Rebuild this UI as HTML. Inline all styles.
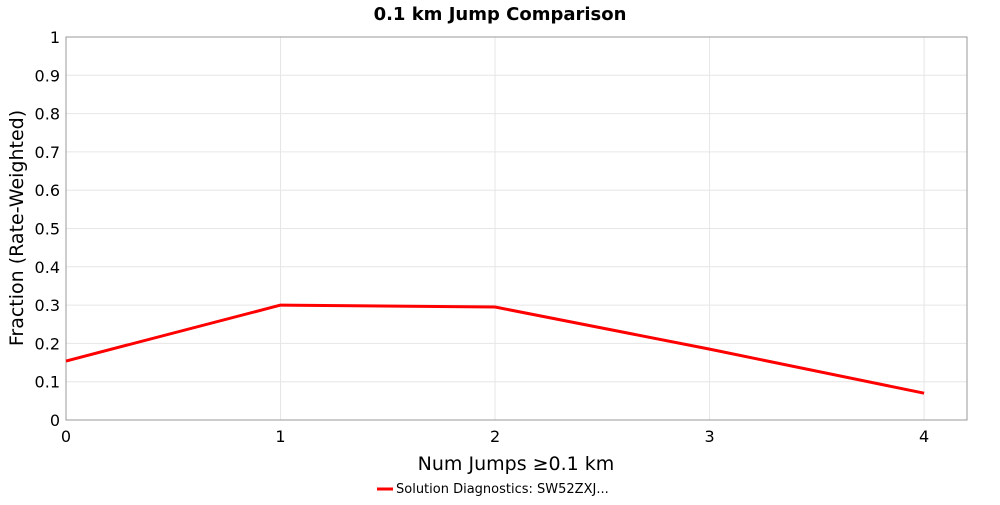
<!DOCTYPE html>
<html><head><meta charset="utf-8"><style>
body{margin:0;background:#fff;font-family:"Liberation Sans","DejaVu Sans",sans-serif;}
svg text{font-family:"DejaVu Sans","Liberation Sans",sans-serif;}
</style></head><body>
<svg id="chart" width="1000" height="500">
<text x="500" y="20" text-anchor="middle" font-size="18" font-weight="bold">0.1 km Jump Comparison</text>
<g id="grid"></g>
<rect x="66" y="37" width="901" height="383" fill="none" stroke="#999"/>
<g id="axes"></g>
<text x="516" y="470" text-anchor="middle" font-size="19">Num Jumps ≥0.1 km</text>
<text transform="translate(23,228) rotate(-90)" text-anchor="middle" font-size="19">Fraction (Rate-Weighted)</text>
<g id="series"></g>
<g>
<line x1="377" y1="489" x2="393" y2="489" stroke="red" stroke-width="3"/>
<text x="396" y="493" font-size="13">Solution Diagnostics: SW52ZXJ...</text>
</g>
</svg>
<script>
const xValues=[0,1,2,3,4];
const yValues=[0.154,0.300,0.295,0.185,0.070];
const xTicks=["0","1","2","3","4"];
const yTicks=["0","0.1","0.2","0.3","0.4","0.5","0.6","0.7","0.8","0.9","1"];
const NS="http://www.w3.org/2000/svg";
const X0=66,X1=967,Y0=420,Y1=37,XMAX=4.2;
const sx=v=>X0+v/XMAX*(X1-X0);
const sy=v=>Y0-v*(Y0-Y1);
const grid=document.getElementById('grid'),axes=document.getElementById('axes'),ser=document.getElementById('series');
function mk(t,a,p){const e=document.createElementNS(NS,t);for(const k in a)e.setAttribute(k,a[k]);p.appendChild(e);return e;}
yTicks.forEach((t,i)=>{const v=parseFloat(t),y=sy(v);
const g=mk('line',{x1:X0,x2:X1,y1:y,y2:y,stroke:'#e6e6e6'},grid);


const tx=mk('text',{x:X0-6,y:y+6,'text-anchor':'end','font-size':16},axes);tx.textContent=t;


});
xTicks.forEach(t=>{const x=sx(parseFloat(t));
const g=mk('line',{x1:x,x2:x,y1:Y1,y2:Y0,stroke:'#e6e6e6'},grid);


const tx=mk('text',{x:x,y:Y0+22,'text-anchor':'middle','font-size':16},axes);tx.textContent=t;


});
const pts=xValues.map((x,i)=>sx(x)+','+sy(yValues[i])).join(' ');
const pl=mk('polyline',{points:pts,fill:'none',stroke:'red','stroke-width':3,'stroke-linejoin':'round'},ser);


</script>
</body></html>
